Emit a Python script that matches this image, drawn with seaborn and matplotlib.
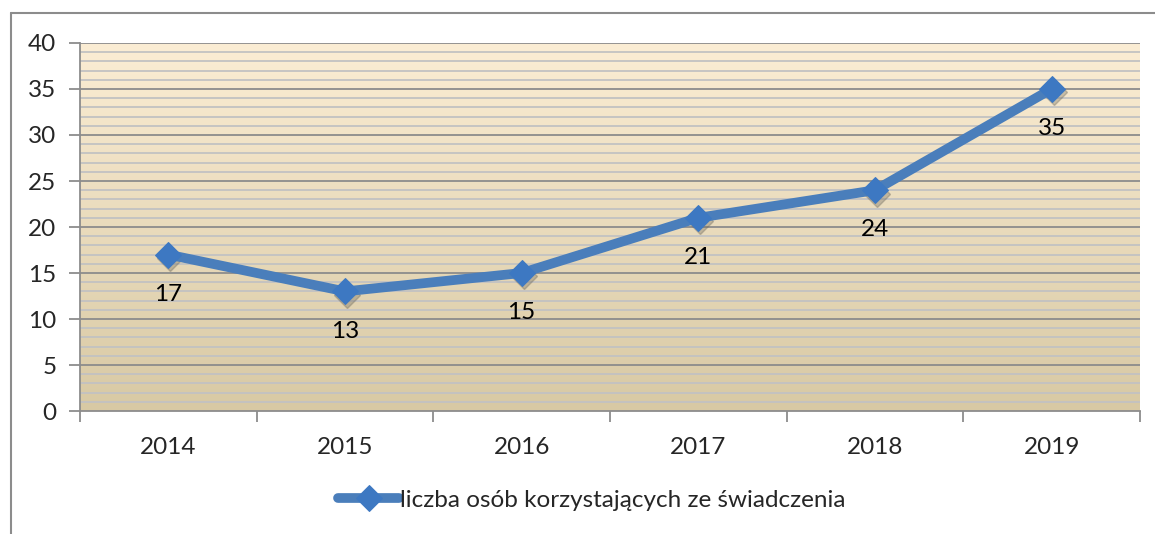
import numpy as np
import pandas as pd
import matplotlib.pyplot as plt
import matplotlib.transforms as mtransforms
from matplotlib.lines import Line2D
import seaborn as sns

years = ["2014", "2015", "2016", "2017", "2018", "2019"]
values = [17, 13, 15, 21, 24, 35]
series_name = "liczba osób korzystających ze świadczenia"

sns.set_theme(style="white")
plt.rcParams["font.family"] = ["Lato", "DejaVu Sans"]
FS = 17.5

df = pd.DataFrame({"rok": years, "wartosc": values})

fig = plt.figure(figsize=(11.55, 5.34), dpi=100)
ax = fig.add_axes([80 / 1155, 1 - 411 / 534, 1060 / 1155, 368 / 534])

# gradient background of the plot area
grad = np.linspace(0, 1, 256).reshape(-1, 1)
top_col = np.array([251, 237, 212]) / 255
bot_col = np.array([216, 201, 164]) / 255
img = top_col * (1 - grad[..., None]) + bot_col * grad[..., None]
ax.imshow(img, extent=[-0.5, 5.5, 0, 40], aspect="auto", zorder=0,
          interpolation="bilinear")

# gridlines: minor every 1, major every 5
for y in range(1, 40):
    if y % 5:
        ax.axhline(y, color="#C2C2C2", lw=1.3, zorder=1)
for y in range(5, 41, 5):
    ax.axhline(y, color="#8C8C8C", lw=1.3, zorder=1)

# marker shadow
shadow = mtransforms.offset_copy(ax.transData, fig=fig, x=1.5, y=-2.5, units="points")
ax.plot(range(len(values)), values, ls="none", marker="D", markersize=13,
        color="#6E6A5E", alpha=0.35, transform=shadow, zorder=2)

sns.lineplot(data=df, x="rok", y="wartosc", ax=ax, color="#4A7EBB", linewidth=7,
             marker="D", markersize=13, markerfacecolor="#3D78C2",
             markeredgecolor="#3D78C2", label=series_name, zorder=3, sort=False)

for i, v in enumerate(values):
    ax.annotate(str(v), (i, v), xytext=(0, -21), textcoords="offset points",
                ha="center", va="top", fontsize=FS, color="black", zorder=4)

ax.set_xlim(-0.5, 5.5)
ax.set_ylim(0, 40)
ax.set_yticks(range(0, 41, 5))
ax.set_xticks(np.arange(-0.5, 6, 1))
ax.set_xticklabels([])
ax.set_xticks(range(len(years)), minor=True)
ax.set_xticklabels(years, minor=True)
ax.tick_params(axis="x", which="major", direction="out", length=8, width=1.3,
               color="#8C8C8C", bottom=True)
ax.tick_params(axis="x", which="minor", length=0, pad=19, labelsize=FS)
ax.tick_params(axis="y", direction="out", length=8, width=1.3, color="#8C8C8C",
               left=True, labelsize=FS, pad=9)
ax.set_xlabel("")
ax.set_ylabel("")
for s in ["top", "right"]:
    ax.spines[s].set_visible(False)
for s in ["left", "bottom"]:
    ax.spines[s].set_color("#8C8C8C")
    ax.spines[s].set_linewidth(1.3)

leg = ax.legend(loc="center", bbox_to_anchor=(592 / 1155, 1 - 500 / 534),
                bbox_transform=fig.transFigure, frameon=False, fontsize=FS,
                handlelength=2.5, handletextpad=0.05, numpoints=1)

# outer chart frame (left and top edges visible)
fig.add_artist(Line2D([11 / 1155, 11 / 1155], [0, 1 - 13 / 534],
                      transform=fig.transFigure, color="#8C8C8C", lw=1.5))
fig.add_artist(Line2D([11 / 1155, 1], [1 - 13 / 534, 1 - 13 / 534],
                      transform=fig.transFigure, color="#8C8C8C", lw=1.5))

fig.savefig("out.png", dpi=100)
